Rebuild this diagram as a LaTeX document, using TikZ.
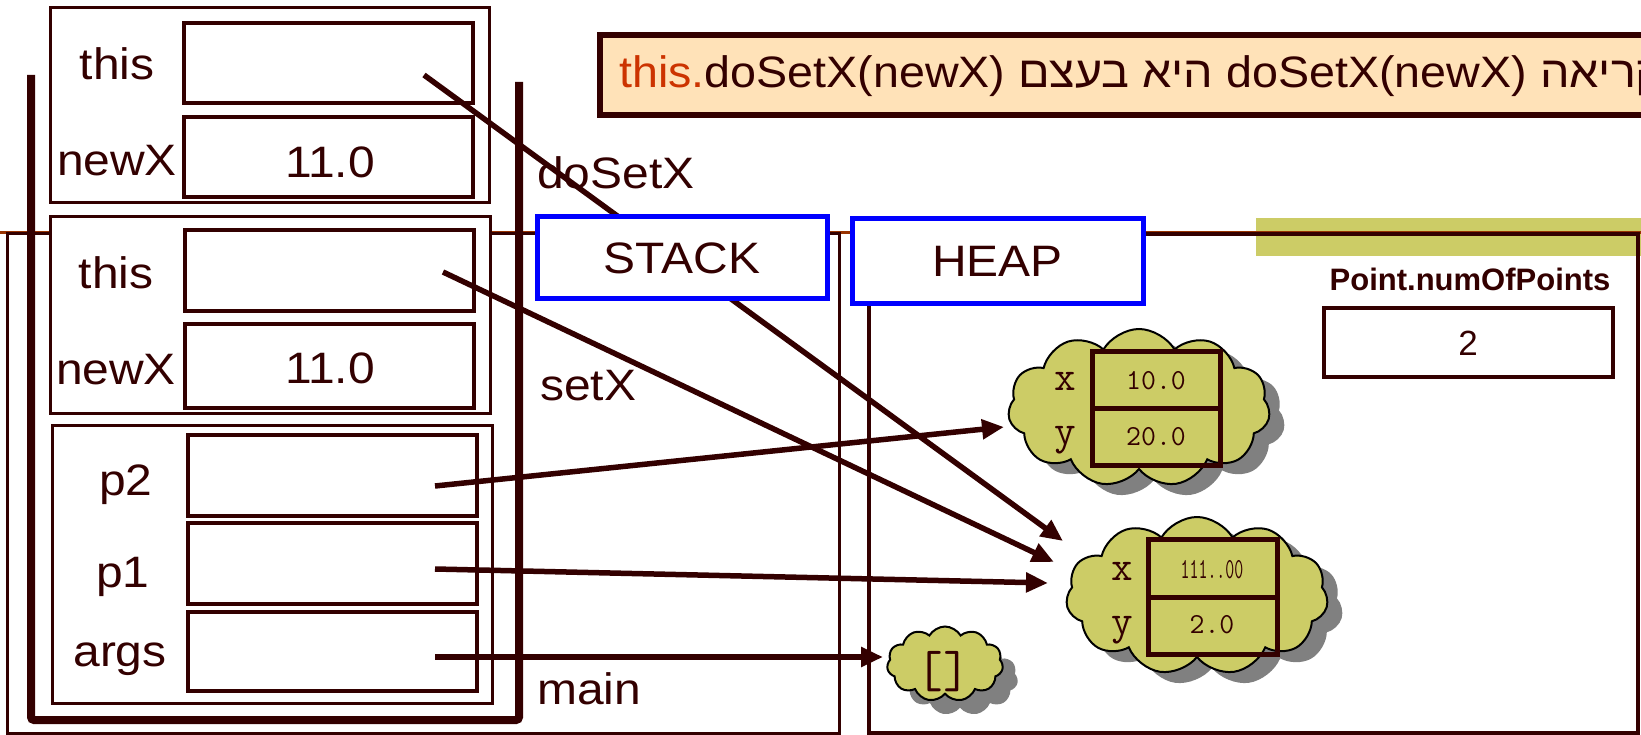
\documentclass[tikz,border=0pt]{standalone}
\usepackage{fontspec}
\usepackage{graphicx}
\setmainfont{Liberation Sans}[FakeStretch=1.09]
\newfontfamily\plainsans{Liberation Sans}
\newfontfamily\hebfont[Script=Hebrew,FakeStretch=1.06]{Liberation Sans}
\TeXXeTstate=1
\usetikzlibrary{arrows.meta,shapes.symbols}
\definecolor{dbrown}{HTML}{330000}
\definecolor{thiscol}{HTML}{CC3300}
\definecolor{olivefill}{HTML}{CCCC66}
\definecolor{peach}{HTML}{FFE2B8}
\definecolor{lineorange}{HTML}{993300}
\definecolor{shadowgrey}{HTML}{808080}
\definecolor{pureblue}{HTML}{0000FF}
\newcommand\lblsz{\fontsize{44}{52}\selectfont}
\begin{document}
\begin{tikzpicture}[x=1pt,y=-1pt,
 frame/.style={draw=dbrown,line width=3pt,fill=white,inner sep=0pt},
 valbox/.style={draw=dbrown,line width=4pt,fill=white,inner sep=0pt,minimum width=289pt},
 lbl/.style={text=dbrown,font=\lblsz,inner sep=0pt},
 ptr/.style={draw=dbrown,line width=5.5pt,-{Triangle[length=22pt,width=19pt]}},
 hdr/.style={draw=pureblue,line width=5pt,fill=white,text=dbrown,font=\lblsz,inner sep=0pt},
 cloudshape/.style={cloud,cloud puffs=11,cloud puff arc=120,cloud ignores aspect,inner sep=0pt},
 cloudbody/.style={cloudshape,draw=black,line width=2pt,fill=olivefill},
 cloudshadow/.style={cloudshape,fill=shadowgrey},
 fieldbox/.style={draw=dbrown,line width=5pt,inner sep=0pt,minimum width=128pt,minimum height=57pt},
 fieldval/.style={text=dbrown,font=\ttfamily\fontsize{29}{32}\selectfont,inner sep=0pt},
 fieldname/.style={text=dbrown,font=\ttfamily\fontsize{42}{46}\selectfont,inner sep=0pt}
]
\useasboundingbox (0,0) rectangle (1641,735);
\clip (0,0) rectangle (1641,735);
\fill[white] (0,0) rectangle (1641,735);

% olive band
\fill[olivefill] (1256,218) rectangle (1660,256);
% orange rule
\draw[lineorange,line width=3pt] (0,233) -- (1641,233);
% STACK and HEAP frames
\node[draw=dbrown,line width=3pt,inner sep=0pt,minimum width=832pt,minimum height=499pt] (stackframe) at (423,483.5) {};
\node[draw=dbrown,line width=4pt,inner sep=0pt,minimum width=769pt,minimum height=499pt] (heapframe) at (1253.5,483.5) {};

% thick U
\draw[dbrown,line width=8pt,rounded corners=3pt] (31,75) -- (31,720) -- (519,720) -- (519,82);

% doSetX frame
\node[frame,minimum width=439pt,minimum height=195pt] (fdo) at (269.5,105.5) {};
\node[valbox,minimum height=80pt] (dothis) at (328.5,63) {};
\node[valbox,minimum height=80pt] (donewx) at (328,157) {};
\node[lbl] (ldothis) at (117,64) {this};
\node[lbl] (ldonewx) at (117,161) {newX};
\node[lbl] (vdonewx) at (330,162) {11.0};

% setX frame
\node[frame,minimum width=440pt,minimum height=196pt] (fset) at (270,315) {};
\node[valbox,minimum height=81pt] (setthis) at (329.5,270.5) {};
\node[valbox,minimum height=84pt] (setnewx) at (329.5,366) {};
\node[lbl] (lsetthis) at (116,273) {this};
\node[lbl] (lsetnewx) at (116,370) {newX};
\node[lbl] (vsetnewx) at (330,368) {11.0};

% main frame
\node[frame,minimum width=440pt,minimum height=278pt] (fmain) at (272,564) {};
\node[valbox,minimum height=81pt] (mp2) at (332,475.5) {};
\node[valbox,minimum height=81pt] (mp1) at (332,563.5) {};
\node[valbox,minimum height=79pt] (margs) at (332,651.5) {};
\node[lbl] (lp2) at (126,485) {p2};
\node[lbl] (lp1) at (123,577) {p1};
\node[lbl] (largs) at (120,659) {args};

% frame names
\node[lbl,anchor=base west] (ndo) at (537,189) {doSetX};
\node[lbl,anchor=base west] (nset) at (540,400) {setX};
\node[lbl,anchor=base west] (nmain) at (537,704) {main};

% title box
\node[draw=dbrown,line width=6pt,fill=peach,inner sep=0pt,minimum width=1100pt,minimum height=80pt,anchor=west] (titlebox) at (597,75) {};
\node[anchor=west,text=dbrown,font=\hebfont\fontsize{44}{52}\selectfont,inner sep=0pt] (titletext) at (619,76) {\beginR הקריאה \beginL doSetX(newX)\endL{} היא בעצם \beginL\textcolor{thiscol}{this.}doSetX(newX)\endL\endR};

% static field
\node[text=dbrown,font=\plainsans\bfseries\fontsize{31}{36}\selectfont,inner sep=0pt] (pnlabel) at (1470,279) {Point.numOfPoints};
\node[draw=dbrown,line width=3.5pt,fill=white,inner sep=0pt,minimum width=289pt,minimum height=69pt] (pnbox) at (1468.5,342.5) {};
\node[text=dbrown,font=\plainsans\fontsize{35}{40}\selectfont,inner sep=0pt] (pnval) at (1468,343) {2};

% cloud 1 (p2 object)
\node[cloudshadow,minimum width=262pt,minimum height=158pt] (c1s) at (1154,419) {};
\node[cloudbody,minimum width=262pt,minimum height=158pt] (c1) at (1139,408) {};
\node[fieldbox] (c1x) at (1156,379.5) {};
\node[fieldbox] (c1y) at (1156,436.5) {};
\node[fieldname] (c1xl) at (1065,381) {x};
\node[fieldname] (c1yl) at (1065,440) {y};
\node[fieldval] (c1xv) at (1156,381) {10.0};
\node[fieldval] (c1yv) at (1156,437) {20.0};

% cloud 2 (p1 object)
\node[cloudshadow,minimum width=262pt,minimum height=158pt] (c2s) at (1212,607) {};
\node[cloudbody,minimum width=262pt,minimum height=158pt] (c2) at (1197,596) {};
\node[fieldbox,minimum width=129pt,minimum height=58pt] (c2x) at (1212.5,568) {};
\node[fieldbox,minimum width=129pt,minimum height=57pt] (c2y) at (1212.5,625.5) {};
\node[fieldname] (c2xl) at (1122,571) {x};
\node[fieldname] (c2yl) at (1122,630) {y};
\node[fieldval] (c2xv) at (1212,570) {\scalebox{0.6}[1]{111..00}};
\node[fieldval] (c2yv) at (1212,625) {2.0};

% cloud 3 (args array)
\node[cloudshadow,minimum width=116pt,minimum height=75pt] (c3s) at (960,678) {};
\node[cloudbody,minimum width=116pt,minimum height=75pt] (c3) at (945,664) {};
\node[text=dbrown,font=\ttfamily\fontsize{52}{56}\selectfont,inner sep=0pt] (c3v) at (943,672) {[]};

% pointers
\coordinate (s1) at (424,75);
\coordinate (e1) at (1063,541);
\coordinate (s2) at (443,272);
\coordinate (e2) at (1054,562);
\coordinate (s3) at (435,486);
\coordinate (e3) at (1004,427);
\coordinate (s4) at (435,569);
\coordinate (e4) at (1048,583);
\coordinate (s5) at (435,657);
\coordinate (e5) at (883,657);
\draw[ptr] (s1) -- (e1);
\draw[ptr] (s2) -- (e2);
\draw[ptr] (s3) -- (e3);
\draw[ptr] (s4) -- (e4);
\draw[ptr] (s5) -- (e5);

% STACK / HEAP headers
\node[hdr,minimum width=290pt,minimum height=82pt] (stackhdr) at (682,258) {STACK};
\node[hdr,minimum width=291pt,minimum height=85pt] (heaphdr) at (997.5,261.5) {HEAP};
\end{tikzpicture}
\end{document}
